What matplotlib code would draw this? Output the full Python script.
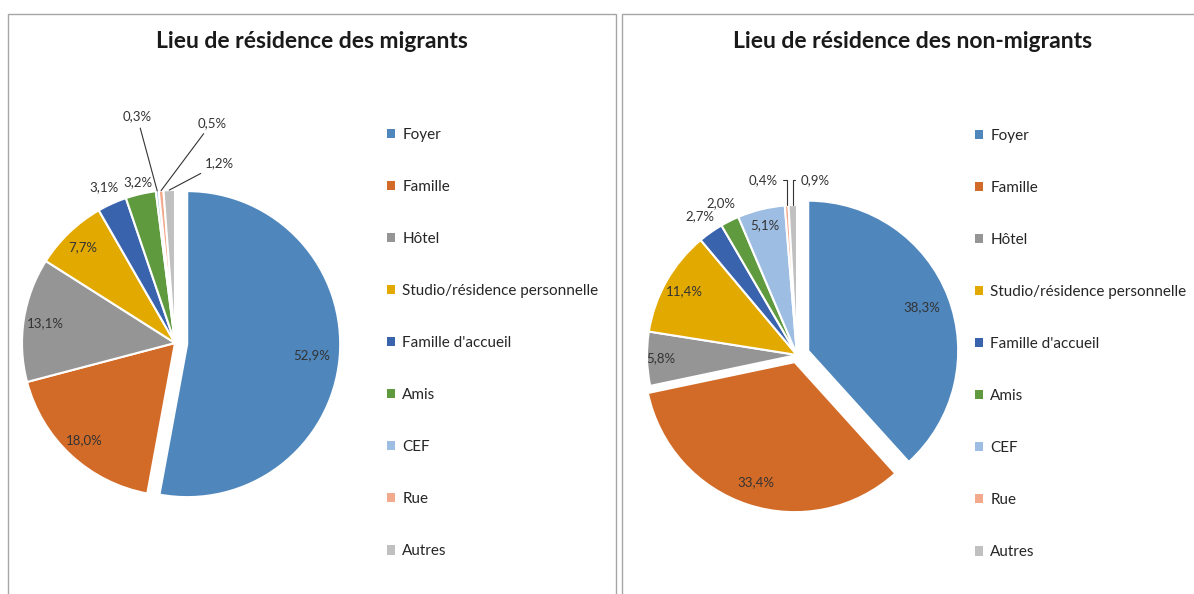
import numpy as np
import matplotlib.pyplot as plt
from matplotlib.patches import Patch, Rectangle

# Données
categories = ["Foyer", "Famille", "Hôtel", "Studio/résidence personnelle",
              "Famille d'accueil", "Amis", "CEF", "Rue", "Autres"]
migrants = [52.9, 18.0, 13.1, 7.7, 3.1, 3.2, 0.3, 0.5, 1.2]
non_migrants = [38.3, 33.4, 5.8, 11.4, 2.7, 2.0, 5.1, 0.4, 0.9]

couleurs = ["#4f87bd", "#d36b28", "#959595", "#e2a900", "#3a63ad",
            "#5f9a3f", "#9dbde3", "#f3a98c", "#c0c0c0"]

W, H = 1194, 594
plt.rcParams["font.family"] = ["Lato", "DejaVu Sans"]
fig = plt.figure(figsize=(W / 100, H / 100), dpi=100)


def panneau(x0, x1, y0, y1, cx, cy, r):
    """Axe couvrant un cadre en pixels, avec le camembert centré en (cx, cy)."""
    ax = fig.add_axes([x0 / W, 1 - y1 / H, (x1 - x0) / W, (y1 - y0) / H])
    ax.set_axis_off()
    fig.patches.append(Rectangle((x0 / W, 1 - y1 / H), (x1 - x0) / W,
                                 (y1 - y0) / H, transform=fig.transFigure,
                                 fill=False, edgecolor="#a6a6a6", lw=1.0))
    lims = ((x0 - cx) / r, (x1 - cx) / r, (cy - y1) / r, (cy - y0) / r)
    return ax, lims


def camembert(ax, lims, valeurs, explode, dist, fleches):
    wedges, _ = ax.pie(valeurs, colors=couleurs, startangle=90,
                       counterclock=False, explode=explode,
                       wedgeprops=dict(edgecolor="white", linewidth=1.5))
    ax.set_xlim(lims[0], lims[1])
    ax.set_ylim(lims[2], lims[3])
    ax.set_aspect("auto")
    for i, (w, v) in enumerate(zip(wedges, valeurs)):
        mid = np.deg2rad((w.theta1 + w.theta2) / 2)
        c = w.center
        txt = f"{v:.1f}%".replace(".", ",")
        d, ang = dist[i]
        a = mid if ang is None else np.deg2rad(ang)
        pos = (c[0] + d * np.cos(a), c[1] + d * np.sin(a))
        if i in fleches:
            tip = (c[0] + 1.0 * np.cos(mid), c[1] + 1.0 * np.sin(mid))
            ax.annotate(txt, xy=tip, xytext=pos, ha="center", va="center",
                        fontsize=9.5, color="#333333",
                        arrowprops=dict(arrowstyle="-", color="#333333",
                                        lw=0.8, shrinkA=2, shrinkB=0,
                                        connectionstyle=fleches[i]))
        else:
            ax.text(pos[0], pos[1], txt, ha="center", va="center",
                    fontsize=9.5, color="#333333")


def legende(x, y):
    poignees = [Patch(facecolor=c, edgecolor="none") for c in couleurs]
    fig.legend(poignees, categories, loc="upper left",
               bbox_to_anchor=(x / W, 1 - y / H), frameon=False,
               fontsize=11, labelspacing=2.49, handlelength=0.55,
               handleheight=0.55, handletextpad=0.45, borderpad=0,
               borderaxespad=0, labelcolor="#262626")


titre = dict(fontsize=16.5, fontweight="bold", color="#1a1a1a",
             ha="center", va="center")

# Migrants
ax1, l1 = panneau(8, 616, 14, 620, 175, 343, 153)
camembert(ax1, l1, migrants,
          explode=[0.08, 0, 0, 0, 0, 0, 0, 0, 0],
          dist=[(0.82, None), (0.87, None), (0.86, None), (0.87, None),
                (1.12, None), (1.08, None), (1.5, 99.5), (1.46, 80.5),
                (1.21, 76)],
          fleches={6: "arc3", 7: "arc3", 8: "arc3"})
fig.text(312 / W, 1 - 42 / H, "Lieu de résidence des migrants", **titre)
legende(387, 128)

# Non-migrants
ax2, l2 = panneau(622, 1210, 14, 620, 797, 355, 150)
camembert(ax2, l2, non_migrants,
          explode=[0.08, 0.05, 0, 0, 0, 0, 0, 0, 0],
          dist=[(0.81, None), (0.84, None), (0.91, None), (0.86, None),
                (1.13, None), (1.13, None), (0.89, None), (1.19, 101),
                (1.17, 84)],
          fleches={7: "angle,angleA=0,angleB=90,rad=0",
                   8: "angle,angleA=0,angleB=90,rad=0"})
fig.text(913 / W, 1 - 42 / H, "Lieu de résidence des non-migrants", **titre)
legende(975, 129)

fig.savefig("out.png", dpi=100)
